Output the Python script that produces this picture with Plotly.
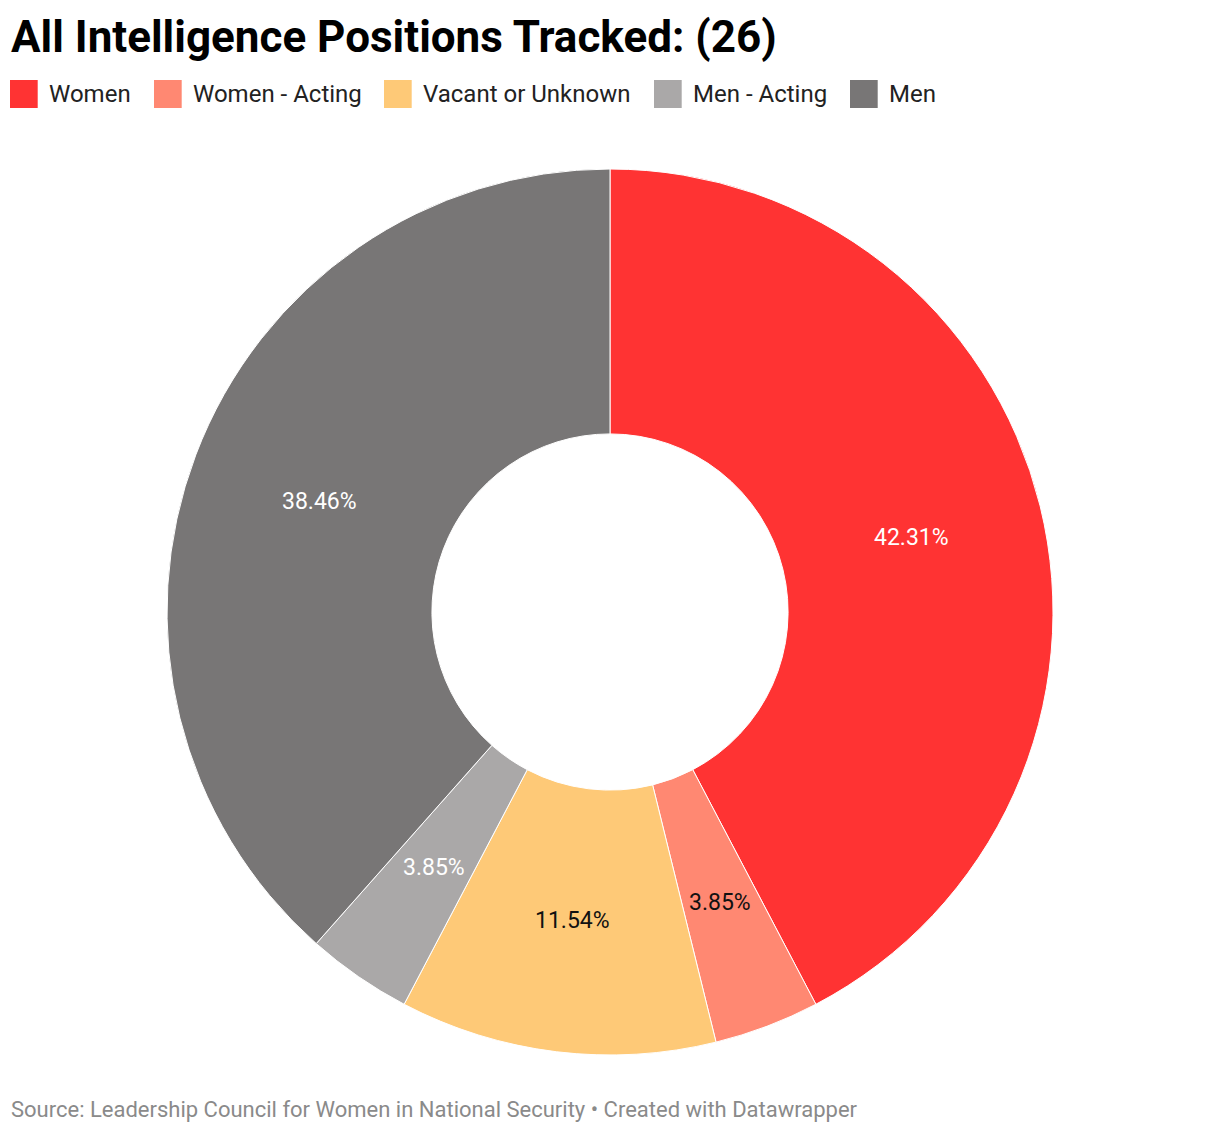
import math
import plotly.graph_objects as go

# Data
labels = ["Women", "Women - Acting", "Vacant or Unknown", "Men - Acting", "Men"]
counts = [11, 1, 3, 1, 10]
colors = ["#ff3333", "#ff8872", "#fec977", "#aaa8a8", "#787676"]
text_colors = ["#ffffff", "#111111", "#111111", "#ffffff", "#ffffff"]

title_text = "All Intelligence Positions Tracked: (26)"
source_text = "Source: Leadership Council for Women in National Security • Created with Datawrapper"

OFF = 8  # page body margin
W, H = 1212, 1124
FONT = "Roboto"
HOLE = 0.402
CX, CY, R = 610, 612, 443  # reference-page pixel geometry


def px(x):
    return (x - OFF) / W


def py(y):
    return 1 - (y - OFF) / H


fig = go.Figure()
fig.add_trace(go.Pie(
    labels=labels,
    values=counts,
    hole=HOLE,
    sort=False,
    direction="clockwise",
    rotation=0,
    marker=dict(colors=colors, line=dict(color="#ffffff", width=1)),
    textinfo="none",
    hoverinfo="label+value+percent",
    showlegend=False,
    domain=dict(x=[px(CX - R), px(CX + R)], y=[py(CY + R), py(CY - R)]),
))

shapes = []
annotations = []

# slice labels placed at mid-ring
total = sum(counts)
cum = 0
r_mid = R * (1 + HOLE) / 2
for v, tc in zip(counts, text_colors):
    mid = (cum + v / 2) / total * 2 * math.pi
    cum += v
    lx = CX + r_mid * math.sin(mid)
    ly = CY - r_mid * math.cos(mid)
    annotations.append(dict(
        text=f"{v / total * 100:.2f}%", x=px(lx), y=py(ly), xref="paper", yref="paper",
        xanchor="center", yanchor="middle", showarrow=False,
        font=dict(family=FONT, size=23, color=tc),
    ))

annotations.append(dict(
    text="<b>" + title_text + "</b>", x=px(9), y=py(37), xref="paper", yref="paper",
    xanchor="left", yanchor="middle", showarrow=False,
    font=dict(family=FONT, size=44, color="#000000"),
))

# custom legend
leg_x = [10, 154, 384, 654, 850]
for lab, col, lx in zip(labels, colors, leg_x):
    shapes.append(dict(type="rect", xref="paper", yref="paper",
                       x0=px(lx), x1=px(lx + 27.7), y0=py(108), y1=py(80),
                       fillcolor=col, line=dict(width=0)))
    annotations.append(dict(
        text=lab, x=px(lx + 37), y=py(94), xref="paper", yref="paper",
        xanchor="left", yanchor="middle", showarrow=False,
        font=dict(family=FONT, size=24, color="#222222"),
    ))

annotations.append(dict(
    text=source_text, x=px(9), y=py(1109), xref="paper", yref="paper",
    xanchor="left", yanchor="middle", showarrow=False,
    font=dict(family=FONT, size=22, color="#8a8a8a"),
))

fig.update_layout(
    width=W, height=H,
    margin=dict(l=0, r=0, t=0, b=0),
    paper_bgcolor="#ffffff", plot_bgcolor="#ffffff",
    shapes=shapes, annotations=annotations,
    font=dict(family=FONT),
)

fig.write_html("out.html")
